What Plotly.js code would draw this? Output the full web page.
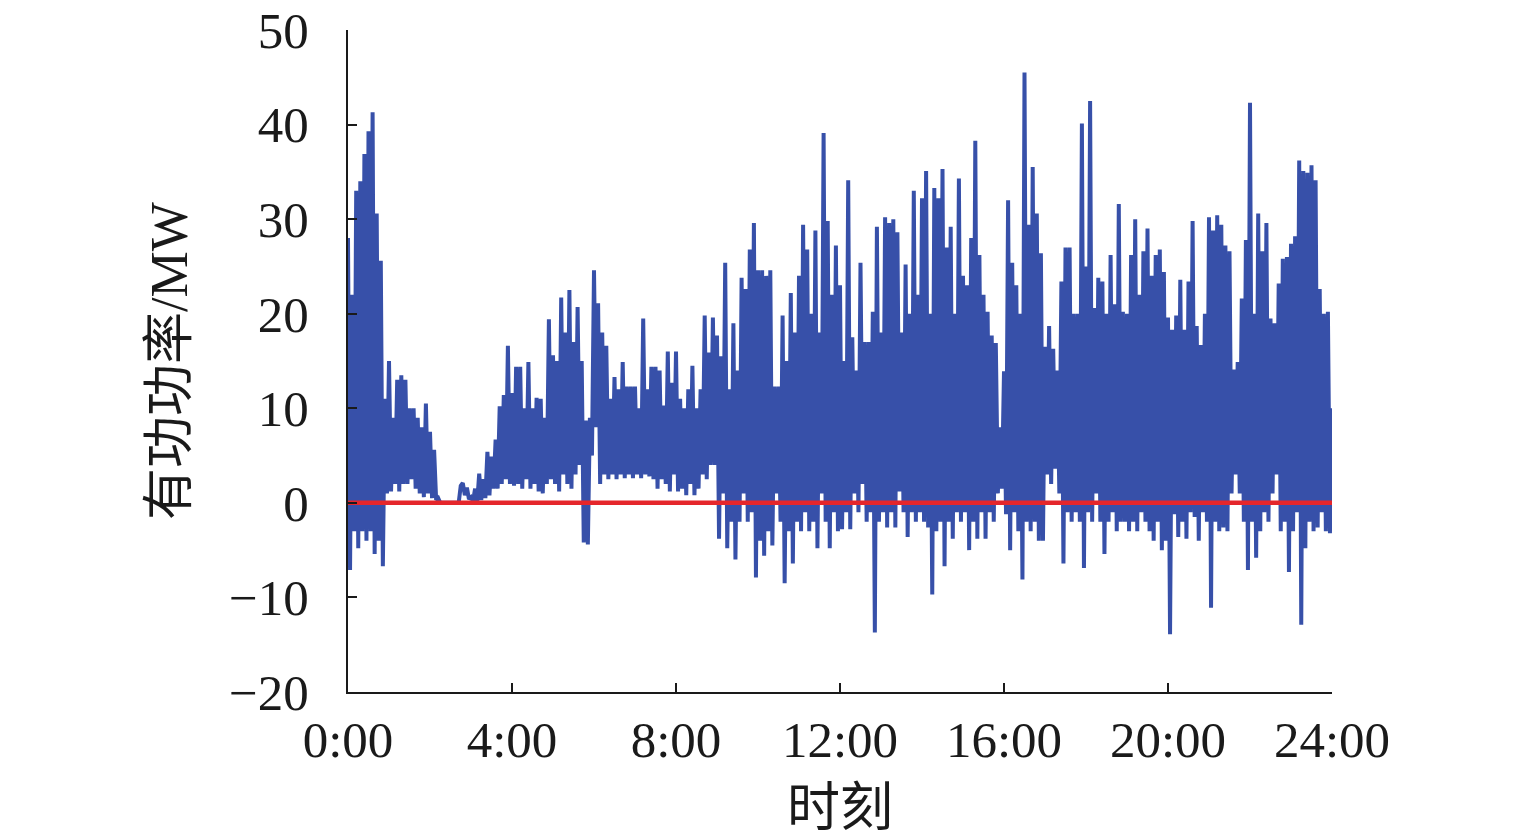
<!DOCTYPE html>
<html>
<head>
<meta charset="utf-8">
<script src="https://cdn.plot.ly/plotly-3.0.1.min.js"></script>
<style>html,body{margin:0;padding:0;background:#fff;}#chart{width:1535px;height:837px;}</style>
</head>
<body>
<div id="chart"></div>
<script>
// Active power (MW), 3-minute samples, one array per 4-hour block
const power_00_04 = [
  28,-7.1, 22,-3, 33,-4.8, 34,-3, 36.9,-4, 39.3,-3, 41.3,-5.4, 30.6,-4, 25.6,-6.7, 11,1,
  15,1.2, 9,2, 13,1.2, 13.5,2, 13,2, 10,2.5, 10,1.5, 9,1, 8,0.6, 10.5,1,
  7.5,0.5, 5.6,0.3, 0.5,0, 0,0, 0,0, 0,0, 0,0, 0,1.8, 2.1,0.8, 1.6,0.4,
  0.6,0.2, 1.5,0, 3.1,0.3, 2.5,0.5, 5.4,0.8, 4.9,1.5, 6.7,1.5, 10.2,2, 11.4,2.5, 16.6,2
];
const power_04_08 = [
  11.6,1.8, 14.4,2, 14.4,1.5, 10,2.5, 14.9,1.5, 10,2, 11.1,1.2, 11,1, 9,2, 19.4,2.5,
  15.6,2, 15,1.2, 21.7,3, 18,2, 22.5,1.5, 17,3, 20.7,4, 15,-4.2, 8.7,-4.4, 9,5,
  24.6,8, 21.1,2, 18,3, 16.6,2.5, 11,3, 13.3,2.5, 12,3, 14.9,2.6, 12.3,3, 12.3,2.6,
  12.3,3, 10,2.6, 19.5,3, 12,2.8, 14.4,2.5, 14.4,1.5, 14,2.5, 10.3,2, 16,1.2, 12.7,3
];
const power_08_12 = [
  16,1.2, 11,1.5, 10,0.8, 12,2, 14.5,0.8, 10,1.5, 12,3, 19.8,2.5, 15.9,4, 19.6,4,
  17.7,-3.8, 15.5,1, 25.4,-4.8, 12,-2, 19,-6, 14,-2, 23.8,1, 22.6,-2, 26.8,-1, 29.6,-7.9,
  24.6,-4, 24.6,-5.6, 24,-3, 24.6,-4.5, 12.3,1, 12.3,-2, 19.8,-8.5, 15,-3, 22.2,-6.4, 18,-2,
  24,-3, 29.4,-1, 26.8,-3, 20,-2, 28.8,-4.8, 18,1, 39.1,-2, 29.8,-4.8, 22,-1, 27.2,-3
];
const power_12_16 = [
  23,-2.8, 15,-1, 34.1,-2.8, 17.5,1, 14,-1, 25.4,2, 17,-2, 17,-1, 20.2,-13.7, 29.2,-2,
  18,-1, 30.2,-2.6, 29.6,-1, 30,-2.6, 28.6,1.2, 18,-1, 25.2,-3.6, 20,-1, 33,-2, 22,-1,
  32.2,-2, 35.1,-2.6, 20,-9.7, 33.3,-3, 32.2,-2, 35.3,-6.7, 27,-2, 29.2,-3.8, 20,-1, 34.3,-2,
  24,-1, 23,-5, 28,-2, 38.3,-3.8, 26.2,-1, 22,-3.8, 20.2,-1, 17.7,-2, 16.9,1, 8,1.5
];
const power_16_20 = [
  13.9,-1.2, 32,-5, 25.4,-1, 23,-3, 20,-8.1, 45.5,-2, 29.4,-3, 35.5,-2, 30.6,-4, 26.4,-4,
  16.5,3, 18.7,2, 16.3,3.6, 14,1, 23.4,-6.4, 27,-1, 27,-2, 20,-1, 20,-2, 40.1,-6.9,
  25,-1, 42.5,-2, 20.6,1, 23.8,-2, 23.4,-5.4, 20,-2, 26.2,-1, 21,-3, 31.6,-2, 20.2,-2,
  20,-3, 26.2,-2, 30,-3, 22,-1, 26.6,-2, 29,-3, 24,-4, 26.2,-2, 26.8,-5, 24.4,-4
];
const power_20_24 = [
  19.6,-13.9, 18.3,-1.2, 19.8,-3.6, 23.6,-2, 18.3,-3.8, 23.4,-1, 29.8,-1.5, 18.7,-4, 16.7,-1, 20,-2,
  30.2,-11.1, 28.8,-2, 30.4,-3, 29.4,-2.6, 27.2,-3, 26.6,1, 14.1,3, 14.9,1, 21.6,-2, 27.8,-7.1,
  42.3,-2, 20,-5.8, 30.6,-3, 26.6,-1, 29.6,-2, 19.5,1, 19,3, 23.2,-3, 25.8,-2, 26,-7.3,
  27.4,-3, 28.2,-1, 36.2,-12.9, 35.1,-4.8, 34.9,-2, 35.7,-3, 34.1,-2.6, 22.6,-1, 20,-3, 20.2,-3.2,
  10
];
const sampleStepHours = 0.05;           // 3-minute sampling
const referenceLineX = [0, 24];          // zero reference line
const referenceLineY = [0, 0];
const xTickVals = [0, 4, 8, 12, 16, 20, 24];
const xTickText = ["0:00", "4:00", "8:00", "12:00", "16:00", "20:00", "24:00"];
const yTickVals = [-20, -10, 0, 10, 20, 30, 40, 50];

const power = [].concat(power_00_04, power_04_08, power_08_12, power_12_16, power_16_20, power_20_24);
const hours = power.map((_, i) => +(i * sampleStepHours).toFixed(4));

const serif = '"Liberation Serif", "Noto Sans CJK SC", serif';
const ink = '#1a1a1a';

const traces = [
  {x: hours, y: power, type: 'scatter', mode: 'lines',
   line: {color: '#3750a9', width: 4}, hoverinfo: 'skip'},
  {x: referenceLineX, y: referenceLineY, type: 'scatter', mode: 'lines',
   line: {color: '#e5262b', width: 4.5}, hoverinfo: 'skip'}
];

const layout = {
  width: 1535, height: 837,
  margin: {l: 348, r: 203, t: 30, b: 145},
  paper_bgcolor: '#ffffff', plot_bgcolor: '#ffffff',
  showlegend: false,
  font: {family: serif, color: ink, size: 50},
  xaxis: {
    range: [0, 24], tickvals: xTickVals, ticktext: xTickText,
    ticks: 'inside', ticklen: 9, tickwidth: 2, tickcolor: ink,
    showline: true, linewidth: 2, linecolor: ink, mirror: false,
    showgrid: false, zeroline: false, ticklabelstandoff: 2,
    tickfont: {family: serif, size: 51, color: ink},
    title: {text: '时刻', font: {family: serif, size: 53, color: ink}, standoff: 26}
  },
  yaxis: {
    range: [-20, 50], tickvals: yTickVals,
    ticks: 'inside', ticklen: 9, tickwidth: 2, tickcolor: ink,
    showline: true, linewidth: 2, linecolor: ink, mirror: false,
    showgrid: false, zeroline: false, ticklabelstandoff: 27,
    tickfont: {family: serif, size: 51, color: ink},
    title: {text: '有功功率/MW', font: {family: serif, size: 52, color: ink}, standoff: 25}
  }
};

Plotly.newPlot('chart', traces, layout, {displayModeBar: false, staticPlot: true});
</script>
</body>
</html>
